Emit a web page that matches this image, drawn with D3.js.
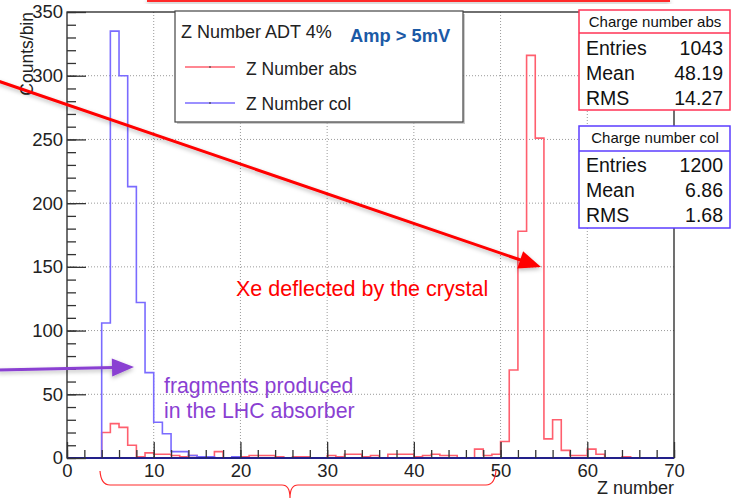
<!DOCTYPE html>
<html><head><meta charset="utf-8">
<script src="https://cdn.jsdelivr.net/npm/d3@7"></script>
<style>
html,body{margin:0;padding:0;background:#fff;}
svg{display:block;font-family:"Liberation Sans",Arial,Helvetica,sans-serif;}
</style></head>
<body><svg id="c" width="731" height="498"></svg>
<script>
// ---- data ----
const binEdgesStart = d3.range(0, 70); // Z number bins of width 1: [z, z+1)
const absCounts = [0,0,0,0,20,27,24,10,1,4,3,3,2,1,2,1,1,5,0,0,
  1,2,2,2,1,0,1,1,0,0,2,1,3,3,1,2,0,3,3,3,
  1,2,3,2,2,0,0,7,2,3,13,69,178,316,251,15,30,6,2,2,
  7,3,0,0,1,0,0,0,0,0];
const colCounts = [0,0,0,0,106,335,300,213,122,67,28,19,5,5,2,1,1,0,0,1,
  0,0,0,0,0,0,0,0,0,0,0,0,0,0,0,0,0,0,0,0,
  0,0,0,0,0,0,0,0,0,0,0,0,0,0,0,0,0,0,0,0,
  0,0,0,0,0,0,0,0,0,0];
const xMajorTicks = [0,10,20,30,40,50,60,70];
const xMinorTicks = d3.range(0, 71, 2);
const yMajorTicks = [0,50,100,150,200,250,300,350];
const yMinorTicks = d3.range(0, 351, 10);
const seriesNames = ["Z Number abs", "Z Number col"];
const legendTitle = "Z Number ADT 4%";
const statTitles = ["Charge number abs", "Charge number col"];
const statLabels = ["Entries", "Mean", "RMS"];
const statAbs = ["1043", "48.19", "14.27"];
const statCol = ["1200", "6.86", "1.68"];

// ---- setup ----
const svg = d3.select("#c");
const x = d3.scaleLinear().domain([0,70]).range([67,674]);
const y = d3.scaleLinear().domain([0,350]).range([458,12]);
const RED = "#ff5f6e", BLUE = "#7a6bff";

const defs = svg.append("defs");
const f = defs.append("filter").attr("id","sh").attr("x","-10%").attr("y","-50%").attr("width","120%").attr("height","200%");
f.append("feDropShadow").attr("dx",0).attr("dy",2).attr("stdDeviation",2).attr("flood-color","#000").attr("flood-opacity",0.28);

// grid
const grid = svg.append("g").attr("stroke","#9a9a9a").attr("stroke-width",1).attr("stroke-dasharray","1,2");
xMajorTicks.filter(d=>d>0&&d<70).forEach(d=>{
  grid.append("line").attr("x1",x(d)).attr("x2",x(d)).attr("y1",y(350)).attr("y2",y(0));
});
yMajorTicks.filter(d=>d>0&&d<350).forEach(d=>{
  grid.append("line").attr("x1",x(0)).attr("x2",x(70)).attr("y1",y(d)).attr("y2",y(d));
});

// histograms
function histPts(vals){
  const pts=[[0,0]];
  vals.forEach((v,i)=>pts.push([binEdgesStart[i],v]));
  pts.push([70,vals[vals.length-1]]);
  pts.push([70,0]);
  return pts;
}
const line = d3.line().x(d=>x(d[0])).y(d=>y(d[1])).curve(d3.curveStepAfter);
svg.append("path").attr("d",line(histPts(absCounts))).attr("fill","none").attr("stroke",RED).attr("stroke-width",1.6);
svg.append("path").attr("d",line(histPts(colCounts))).attr("fill","none").attr("stroke",BLUE).attr("stroke-width",1.6);

// frame
svg.append("rect").attr("x",x(0)).attr("y",y(350)).attr("width",x(70)-x(0)).attr("height",y(0)-y(350))
  .attr("fill","none").attr("stroke","#111").attr("stroke-width",1.2);
svg.append("line").attr("x1",x(0)).attr("x2",x(70)).attr("y1",y(0)).attr("y2",y(0)).attr("stroke","#22208a").attr("stroke-width",1.8);

// axes
const ax = svg.append("g").attr("transform",`translate(0,${y(0)})`)
  .call(d3.axisBottom(x).tickValues(xMajorTicks).tickSize(-16).tickPadding(6).tickFormat(d3.format("d")));
const axm = svg.append("g").attr("transform",`translate(0,${y(0)})`)
  .call(d3.axisBottom(x).tickValues(xMinorTicks).tickSize(-8).tickFormat(""));
const ay = svg.append("g").attr("transform",`translate(${x(0)},0)`)
  .call(d3.axisLeft(y).tickValues(yMajorTicks).tickSize(-19).tickPadding(5).tickFormat(d3.format("d")));
const aym = svg.append("g").attr("transform",`translate(${x(0)},0)`)
  .call(d3.axisLeft(y).tickValues(yMinorTicks).tickSize(-9).tickFormat(""));
[ax,axm,ay,aym].forEach(g=>{
  g.select(".domain").remove();
  g.selectAll(".tick line").attr("stroke","#333").attr("stroke-width",1.3);
  g.selectAll("text").attr("font-size",18.5).attr("fill","#222").attr("font-family","Liberation Sans, Arial, sans-serif");
});
ay.selectAll(".tick text").attr("x",-4);

// axis titles
svg.append("text").attr("x",674).attr("y",494).attr("text-anchor","end").attr("font-size",18).attr("fill","#222").text("Z number");
svg.append("text").attr("transform","translate(33,12) rotate(-90)").attr("text-anchor","end").attr("font-size",17.5).attr("fill","#222").text("Counts/bin");

// legend
const lg = svg.append("g");
lg.append("rect").attr("x",177).attr("y",14).attr("width",288).attr("height",110).attr("fill","#aaa").attr("opacity",0.6);
lg.append("rect").attr("x",175).attr("y",11).attr("width",288).attr("height",111).attr("fill","#fff").attr("stroke","#444").attr("stroke-width",1.2);
lg.append("text").attr("x",181).attr("y",38).attr("font-size",18).attr("fill","#222").text(legendTitle);
lg.append("text").attr("x",350).attr("y",42).attr("font-size",18.3).attr("font-weight","bold").attr("fill","#1b5aa6").text("Amp > 5mV");
[[RED,67,75],[BLUE,103,110]].forEach((r,i)=>{
  lg.append("line").attr("x1",185).attr("x2",235).attr("y1",r[1]).attr("y2",r[1]).attr("stroke",r[0]).attr("stroke-width",1.6);
  lg.append("line").attr("x1",210).attr("x2",210).attr("y1",r[1]-1).attr("y2",r[1]+1).attr("stroke","#333");
  lg.append("text").attr("x",246).attr("y",r[2]).attr("font-size",17.5).attr("fill","#222").text(seriesNames[i]);
});

// stat boxes
function statBox(y0, h, sep, col, title, vals, titleBase, rowBase){
  const g = svg.append("g");
  g.append("rect").attr("x",579).attr("y",y0).attr("width",151).attr("height",h).attr("fill","#fff").attr("stroke",col).attr("stroke-width",1.5);
  g.append("line").attr("x1",579).attr("x2",730).attr("y1",sep).attr("y2",sep).attr("stroke",col).attr("stroke-width",1.5);
  g.append("text").attr("x",655).attr("y",titleBase).attr("text-anchor","middle").attr("font-size",15).attr("fill","#111").text(title);
  statLabels.forEach((l,i)=>{
    g.append("text").attr("x",586).attr("y",rowBase[i]).attr("font-size",19.5).attr("fill","#111").text(l);
    g.append("text").attr("x",723).attr("y",rowBase[i]).attr("text-anchor","end").attr("font-size",19.5).attr("fill","#111").text(vals[i]);
  });
}
statBox(10,100,33,"#ff3355",statTitles[0],statAbs,27,[55,80,105]);
statBox(126,102,151,"#5b3dff",statTitles[1],statCol,143,[172,197,222]);

// annotations
svg.append("text").attr("x",236).attr("y",296).attr("font-size",21.5).attr("fill","#ff0000").text("Xe deflected by the crystal");
svg.append("text").attr("x",164).attr("y",393).attr("font-size",21.3).attr("fill","#8a3fd2").text("fragments produced");
svg.append("text").attr("x",164).attr("y",418).attr("font-size",21.3).attr("fill","#8a3fd2").text("in the LHC absorber");

function arrow(x1,y1,x2,y2,col,len,hw){
  const g = svg.append("g").attr("filter","url(#sh)");
  const a = Math.atan2(y2-y1,x2-x1), c=Math.cos(a), s=Math.sin(a);
  const bx = x2-len*c, by = y2-len*s;
  g.append("line").attr("x1",x1).attr("y1",y1).attr("x2",bx+2*c).attr("y2",by+2*s).attr("stroke",col).attr("stroke-width",3);
  g.append("path").attr("d",`M${x2},${y2} L${bx-hw*s},${by+hw*c} L${bx+hw*s},${by-hw*c} Z`).attr("fill",col);
}
arrow(-2,81,541,267,"#ff0000",22,9);
arrow(-2,370,134,367,"#8a3fd2",22,9);

// brace
svg.append("path").attr("d","M100,471 Q101,485 110,485 L282,485 Q290,485 290,498 M290,498 Q290,485 298,485 L486,485 Q495,485 496,470")
  .attr("fill","none").attr("stroke","#ff2a2a").attr("stroke-width",1.2);

// top red line
svg.append("rect").attr("x",147).attr("y",-1).attr("width",523).attr("height",3).attr("fill","#ff2a2a").attr("filter","url(#sh)");
</script></body></html>
